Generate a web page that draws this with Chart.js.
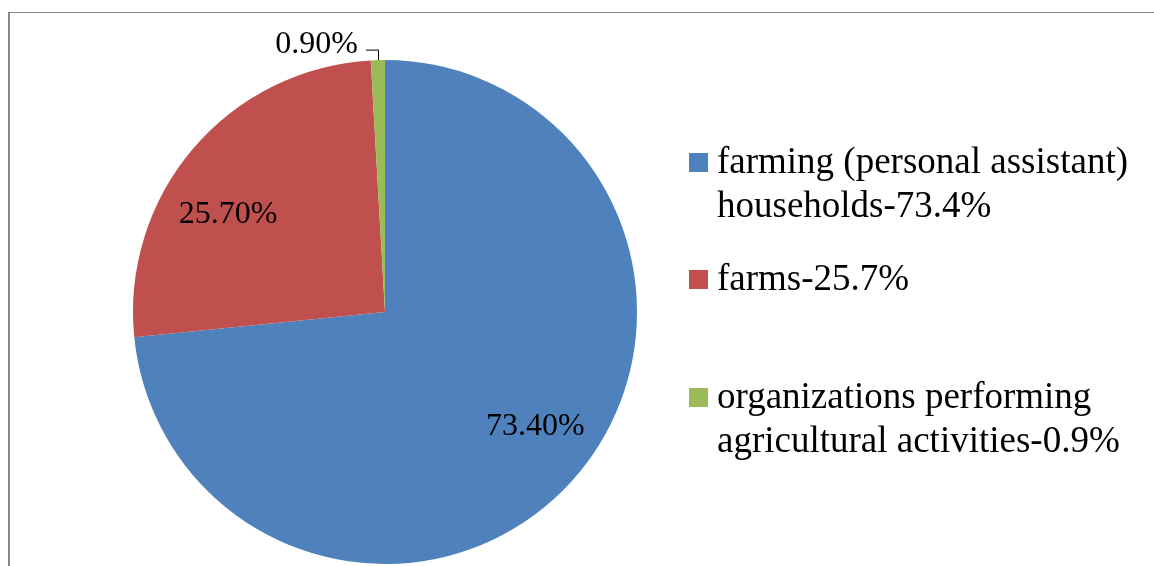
<!DOCTYPE html>
<html>
<head>
<meta charset="utf-8">
<script src="https://cdn.jsdelivr.net/npm/chart.js@4/dist/chart.umd.min.js"></script>
<style>
  html, body { margin: 0; padding: 0; background: #fff; }
  #wrap { position: relative; width: 1154px; height: 566px; }
</style>
</head>
<body>
<div id="wrap"><canvas id="pieChart"></canvas></div>
<script>
// Chart data
const categories = [
    ['farming (personal assistant)', 'households-73.4%'],
    ['farms-25.7%'],
    ['organizations performing', 'agricultural activities-0.9%']
];
const shares = [73.4, 25.7, 0.9];
const sliceColors = ['#4F81BD', '#C0504D', '#9BBB59'];

const serif = '"Liberation Serif", "Times New Roman", serif';
const legendBaselines = [173, 290, 408]; // first-line baseline of each legend entry
const labelNudge = [[12, -10], [-15, 24], [0, 0]]; // px shift of in-slice labels, like Excel's best fit

// Frame, data labels and legend drawn by hand
const pieDecor = {
    id: 'pieDecor',
    beforeDraw(chart) {
        const ctx = chart.ctx;
        ctx.save();
        ctx.fillStyle = '#878787';
        ctx.fillRect(8, 12, 2, chart.height - 12);
        ctx.fillRect(8, 12, chart.width - 8, 1);
        ctx.restore();
    },
    afterDraw(chart) {
        const ctx = chart.ctx;
        const arcs = chart.getDatasetMeta(0).data;
        ctx.save();
        ctx.fillStyle = '#000';
        ctx.font = '32px ' + serif;

        arcs.forEach((arc, i) => {
            const p = arc.getProps(['x', 'y', 'startAngle', 'endAngle', 'outerRadius'], true);
            const mid = (p.startAngle + p.endAngle) / 2;
            const text = shares[i].toFixed(2) + '%';
            if (shares[i] < 5) {
                // small slice: label outside with a leader line
                const ex = p.x + Math.cos(mid) * p.outerRadius;
                const ey = p.y + Math.sin(mid) * p.outerRadius;
                ctx.strokeStyle = '#000';
                ctx.lineWidth = 1;
                ctx.beginPath();
                ctx.moveTo(Math.round(ex) + 0.5, ey);
                ctx.lineTo(Math.round(ex) + 0.5, ey - 10);
                ctx.lineTo(Math.round(ex) - 12, ey - 10);
                ctx.stroke();
                ctx.textAlign = 'right';
                ctx.textBaseline = 'middle';
                ctx.fillText(text, ex - 20, ey - 16);
            } else {
                const r = p.outerRadius * 0.74;
                ctx.textAlign = 'center';
                ctx.textBaseline = 'middle';
                ctx.fillText(text,
                    p.x + Math.cos(mid) * r + labelNudge[i][0],
                    p.y + Math.sin(mid) * r + labelNudge[i][1]);
            }
        });

        // legend
        ctx.font = '37px ' + serif;
        ctx.textAlign = 'left';
        ctx.textBaseline = 'alphabetic';
        categories.forEach((lines, i) => {
            const base = legendBaselines[i];
            ctx.fillStyle = sliceColors[i];
            ctx.fillRect(689, base - 20, 19, 19);
            ctx.fillStyle = '#000';
            lines.forEach((line, j) => {
                ctx.fillText(line, 717, base + j * 43.5);
            });
        });
        ctx.restore();
    }
};

const ctx = document.getElementById('pieChart').getContext('2d');
const myChart = new Chart(ctx, {
    type: 'pie',
    data: {
        labels: categories,
        datasets: [{
            data: shares,
            backgroundColor: sliceColors,
            borderWidth: 0
        }]
    },
    options: {
        responsive: true,
        maintainAspectRatio: false,
        animation: false,
        layout: {
            padding: { left: 133, right: 517, top: 60, bottom: 2 }
        },
        plugins: {
            legend: { display: false },
            tooltip: { enabled: false }
        }
    },
    plugins: [pieDecor]
});
</script>
</body>
</html>
